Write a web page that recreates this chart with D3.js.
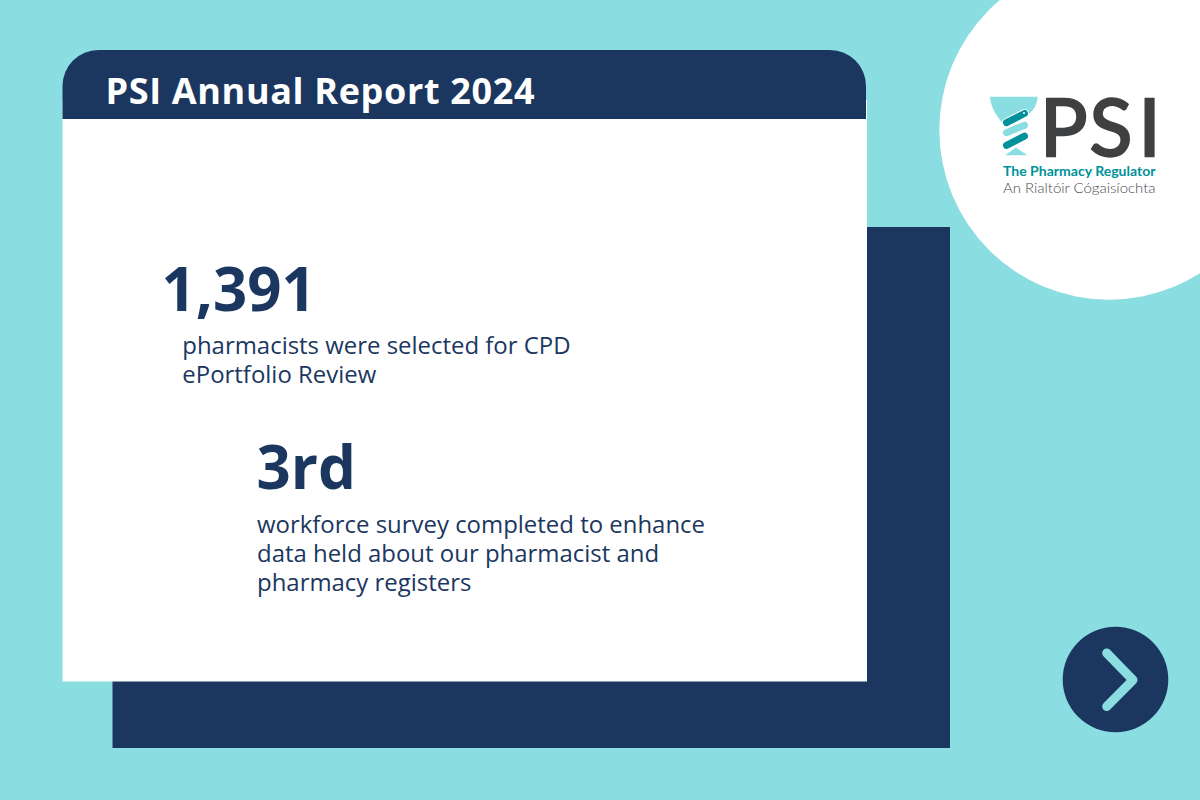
<!DOCTYPE html>
<html>
<head>
<meta charset="utf-8">
<title>PSI Annual Report 2024</title>
<script src="https://cdn.jsdelivr.net/npm/d3@7"></script>
<style>
html, body { margin: 0; padding: 0; background: #8addE0; }
svg { display: block; }
text { font-family: "Open Sans", sans-serif; }
</style>
</head>
<body>
<script>
"use strict";

const title = "PSI Annual Report 2024";
const statValues = ["1,391", "3rd"];
const statLines = [
    ["pharmacists were selected for CPD", "ePortfolio Review"],
    ["workforce survey completed to enhance", "data held about our pharmacist and", "pharmacy registers"]
];
const logoName = "PSI";
const logoLines = ["The Pharmacy Regulator", "An Rialtóir Cógaisíochta"];

const navy = "#1b375f", aqua = "#8addE0", teal = "#00919a", grey = "#3f4042";

const svg = d3.select("body").append("svg")
    .attr("width", 1200)
    .attr("height", 800)
    .attr("viewBox", [0, 0, 1200, 800]);

svg.append("rect").attr("width", 1200).attr("height", 800).attr("fill", aqua);

// Shadow panel behind the card
svg.append("rect").attr("x", 112.5).attr("y", 227).attr("width", 837.5).attr("height", 521).attr("fill", navy);

// White card
svg.append("rect").attr("x", 62.5).attr("y", 100).attr("width", 804.5).attr("height", 581.5).attr("fill", "white");

// Header with rounded top corners
const header = d3.path();
header.moveTo(62.5, 119);
header.lineTo(62.5, 86);
header.arcTo(62.5, 50, 98.5, 50, 36);
header.lineTo(830, 50);
header.arcTo(866, 50, 866, 86, 36);
header.lineTo(866, 119);
header.closePath();
svg.append("path").attr("d", header.toString()).attr("fill", navy);

svg.append("text")
    .attr("x", 105.5).attr("y", 104)
    .attr("fill", "white")
    .attr("font-size", 36).attr("font-weight", 700)
    .attr("letter-spacing", 0.65)
    .text(title);

// Big figures and their descriptions
const statX = [161.5, 256.5], statY = [311, 489.3];
const lineX = [182.3, 257], lineY = [354, 533], lineGap = 28.8;

svg.selectAll(".value").data(statValues).join("text")
    .attr("class", "value")
    .attr("x", (d, i) => statX[i]).attr("y", (d, i) => statY[i])
    .attr("fill", navy)
    .attr("font-size", 60).attr("font-weight", 700)
    .text(d => d);

statLines.forEach((lines, i) => {
    svg.selectAll(".desc" + i).data(lines).join("text")
        .attr("class", "desc" + i)
        .attr("x", lineX[i])
        .attr("y", (d, j) => lineY[i] + j * lineGap)
        .attr("fill", navy)
        .attr("font-size", 23.95)
        .text(d => d);
});

// Logo circle, top right
svg.append("circle").attr("cx", 1109).attr("cy", 130).attr("r", 169.7).attr("fill", "white");

// Cup and lower triangle of the logo
svg.append("path")
    .attr("d", "M990,96.7H1037.7C1037,106 1032,113 1024,117L1006,126C997,118 991,108 990,96.7Z")
    .attr("fill", aqua);
svg.append("path")
    .attr("d", "M1005,155.3L1016,147.5L1027.3,155.3Z")
    .attr("fill", aqua);

// Three capsules of the logo, white outline keeps them apart
const capsule = d3.line();
const capsules = [
    [[[1006.5, 132.7], [1024.5, 125.2]], aqua],
    [[[1006.5, 122.7], [1024.5, 113.5]], teal],
    [[[1006.5, 145.3], [1024.5, 136.2]], teal]
];
capsules.forEach(c => {
    svg.append("path")
        .attr("d", capsule(c[0]))
        .attr("fill", "none")
        .attr("stroke", "white")
        .attr("stroke-width", 9)
        .attr("stroke-linecap", "round");
    svg.append("path")
        .attr("d", capsule(c[0]))
        .attr("fill", "none")
        .attr("stroke", c[1])
        .attr("stroke-width", 7)
        .attr("stroke-linecap", "round");
});
svg.append("circle").attr("cx", 1024).attr("cy", 113).attr("r", 1).attr("fill", "white");

svg.append("text")
    .attr("x", "1040 1089.5 1138.5").attr("y", 155.5)
    .attr("fill", grey)
    .attr("stroke", grey)
    .attr("stroke-width", 2.4)
    .attr("font-size", 79)
    .style("font-family", "Lato, sans-serif")
    .text(logoName);

svg.append("text")
    .attr("x", 1003).attr("y", 175.7)
    .attr("fill", teal)
    .attr("font-size", 14).attr("font-weight", 700)
    .attr("textLength", 152.5).attr("lengthAdjust", "spacingAndGlyphs")
    .style("font-family", "Lato, sans-serif")
    .text(logoLines[0]);

svg.append("text")
    .attr("x", 1003).attr("y", 192.7)
    .attr("fill", "#48494c")
    .attr("font-size", 14).attr("font-weight", 300)
    .attr("textLength", 152.5).attr("lengthAdjust", "spacingAndGlyphs")
    .style("font-family", "Lato, sans-serif")
    .text(logoLines[1]);

// Next arrow button
svg.append("circle").attr("cx", 1115.5).attr("cy", 679.5).attr("r", 52.8).attr("fill", navy);
svg.append("path")
    .attr("d", d3.line()([[1106.7, 653], [1133, 680], [1106.7, 706.5]]))
    .attr("fill", "none")
    .attr("stroke", aqua)
    .attr("stroke-width", 9)
    .attr("stroke-linecap", "round")
    .attr("stroke-linejoin", "round");
</script>
</body>
</html>
